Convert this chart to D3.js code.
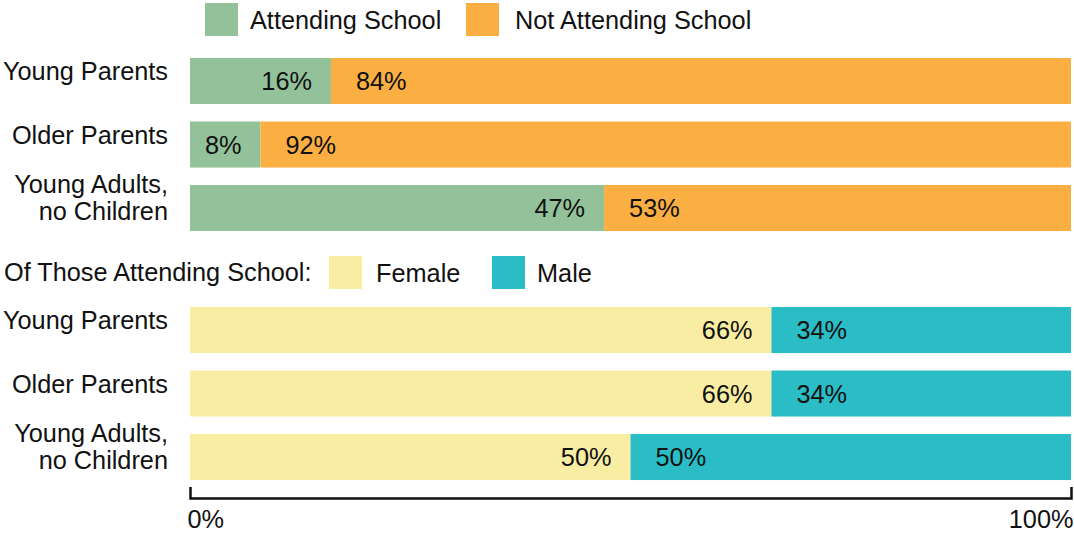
<!DOCTYPE html>
<html>
<head>
<meta charset="utf-8">
<script src="https://cdn.jsdelivr.net/npm/d3@7"></script>
<style>
  html, body { margin: 0; padding: 0; background: #fff; }
  svg { display: block; font-family: "Liberation Sans", Arial, sans-serif; }
  text { fill: #111; }
</style>
</head>
<body>
<svg id="chart" width="1074" height="534"></svg>
<script>
// ---- data ----
const categories = ["Young Parents", "Older Parents", "Young Adults,\nno Children"];
const attending = [16, 8, 47];
const notAttending = [84, 92, 53];
const female = [66, 66, 50];
const male = [34, 34, 50];
const legend1 = ["Attending School", "Not Attending School"];
const legend2Title = "Of Those Attending School:";
const legend2 = ["Female", "Male"];
const tickValues = [0, 100];
const tickLabels = ["0%", "100%"];

// ---- styles ----
const colors1 = ["#93c29a", "#fbae42"];
const colors2 = ["#f9eda3", "#2abdc6"];
const fontSize = 25.3;

const svg = d3.select("#chart");
const x = d3.scaleLinear().domain([0, 100]).range([190, 1071]);

function bandScale(top) {
  const step = 63.5;
  return d3.scaleBand().domain(categories)
    .range([top - 0.1375 * step, top - 0.1375 * step + 3 * step])
    .paddingInner(0.275).paddingOuter(0.1375);
}
const y1 = bandScale(58);
const y2 = bandScale(307);

function drawGroup(yScale, leftVals, rightVals, colors) {
  const g = svg.append("g");
  const rows = categories.map((c, i) => ({ c, l: leftVals[i], r: rightVals[i] }));
  g.selectAll("rect.l").data(rows).join("rect")
    .attr("x", x(0)).attr("y", d => yScale(d.c))
    .attr("width", d => x(d.l) - x(0)).attr("height", yScale.bandwidth())
    .attr("fill", colors[0]);
  g.selectAll("rect.r").data(rows).join("rect")
    .attr("x", d => x(d.l)).attr("y", d => yScale(d.c))
    .attr("width", d => x(d.l + d.r) - x(d.l)).attr("height", yScale.bandwidth())
    .attr("fill", colors[1]);
  g.selectAll("text.lv").data(rows).join("text")
    .attr("x", d => x(d.l) - 19).attr("y", d => yScale(d.c) + yScale.bandwidth() / 2)
    .attr("dy", "0.36em").attr("text-anchor", "end")
    .style("font-size", fontSize + "px").text(d => d.l + "%");
  g.selectAll("text.rv").data(rows).join("text")
    .attr("x", d => x(d.l) + 25).attr("y", d => yScale(d.c) + yScale.bandwidth() / 2)
    .attr("dy", "0.36em").attr("text-anchor", "start")
    .style("font-size", fontSize + "px").text(d => d.r + "%");
  rows.forEach(d => {
    const lines = d.c.split("\n");
    const cy = yScale(d.c) + yScale.bandwidth() / 2;
    const t = g.append("text").attr("text-anchor", "end")
      .style("font-size", fontSize + "px");
    const start = lines.length === 1 ? cy - 1 : cy - 15;
    lines.forEach((ln, k) => {
      t.append("tspan").attr("x", 168).attr("y", start + k * 27).text(ln);
    });
  });
}
drawGroup(y1, attending, notAttending, colors1);
drawGroup(y2, female, male, colors2);

// ---- legends ----
function legendItem(xSq, ySq, color, label, xText) {
  svg.append("rect").attr("x", xSq).attr("y", ySq).attr("width", 33).attr("height", 33)
    .attr("fill", color);
  svg.append("text").attr("x", xText).attr("y", ySq + 16.5).attr("dy", "0.36em")
    .style("font-size", fontSize + "px").text(label);
}
legendItem(205, 3, colors1[0], legend1[0], 250);
legendItem(466, 3, colors1[1], legend1[1], 515);

svg.append("text").attr("x", 4).attr("y", 272).attr("dy", "0.36em")
  .style("font-size", fontSize + "px").text(legend2Title);
legendItem(329, 256, colors2[0], legend2[0], 376);
legendItem(492, 256, colors2[1], legend2[1], 537);

// ---- axis ----
const axis = d3.axisBottom(x).tickValues(tickValues)
  .tickSizeInner(0).tickSizeOuter(-11).tickPadding(0)
  .tickFormat((d, i) => tickLabels[i]);
const ag = svg.append("g").attr("transform", "translate(0,498)").call(axis);
ag.select(".domain").attr("stroke", "#111").attr("stroke-width", 2.5);
ag.selectAll(".tick line").remove();
ag.selectAll(".tick text")
  .attr("fill", "#111").attr("y", 21).attr("dy", "0.36em")
  .style("font-size", fontSize + "px")
  .style("font-family", "'Liberation Sans', Arial, sans-serif")
  .attr("text-anchor", (d, i) => i === 0 ? "start" : "end")
  .attr("dx", (d, i) => i === 0 ? -3 : 2);
</script>
</body>
</html>
